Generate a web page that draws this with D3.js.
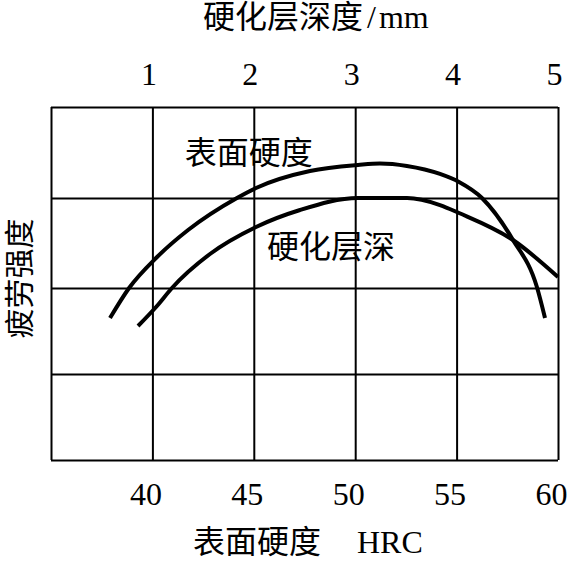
<!DOCTYPE html>
<html>
<head>
<meta charset="utf-8">
<script src="https://cdn.jsdelivr.net/npm/d3@7"></script>
<style>
  body { margin: 0; background: #fff; }
  text { font-family: "Liberation Serif", "Noto Sans CJK SC", serif; fill: #000; }
</style>
</head>
<body>
<svg id="chart" width="570" height="561"></svg>
<script>
// tick labels
const hrcTicks = [40, 45, 50, 55, 60]
const depthTicks = [1, 2, 3, 4, 5]
const hrcGrid = [35, 40, 45, 50, 55, 60]
const strengthGrid = [0, 1, 2, 3, 4]

// fatigue strength vs surface hardness (HRC, bottom axis)
const hardnessHrc = [37.91, 38.85, 40.23, 41.76, 44.17, 45.11, 47.77, 50.14, 51.22, 52.55, 54.18, 55.12, 56.25, 57.78, 58.96, 59.36]
const hardnessStrength = [1.651, 2.0, 2.344, 2.644, 3.0, 3.11, 3.297, 3.363, 3.379, 3.352, 3.264, 3.176, 3.0, 2.533, 2.011, 1.651]

// fatigue strength vs case depth (mm, top axis)
const depthMm = [0.858, 1.045, 1.193, 1.568, 2.022, 2.456, 3.028, 3.511, 3.836, 4.024, 4.556, 5.0]
const depthStrength = [1.558, 1.791, 2.0, 2.378, 2.678, 2.867, 3.0, 3.0, 2.922, 2.833, 2.533, 2.122]

const svg = d3.select("#chart")
const plotLeft = 51, plotRight = 558, plotTop = 107, plotBottom = 460

const x = d3.scaleLinear().domain([35, 60]).range([plotLeft, plotRight])
const xDepth = d3.scaleLinear().domain([0, 5]).range([plotLeft, plotRight])
// the hand-drawn rows are not quite even
const y = d3.scaleLinear().domain([0, 1, 2, 3, 4]).range([plotBottom, 374, 288, 198, plotTop])

// grid
svg.append("g")
    .attr("transform", "translate(0," + plotBottom + ")")
    .call(d3.axisBottom(x).tickValues(hrcGrid).tickSize(-(plotBottom - plotTop)).tickFormat(""))
    .call(function(g) { g.select(".domain").remove() })
    .selectAll("line").attr("stroke", "#000").attr("stroke-width", 2)

svg.append("g")
    .attr("transform", "translate(" + plotLeft + ",0)")
    .call(d3.axisLeft(y).tickValues(strengthGrid).tickSize(-(plotRight - plotLeft)).tickFormat(""))
    .call(function(g) { g.select(".domain").remove() })
    .selectAll("line").attr("stroke", "#000").attr("stroke-width", 2)

// tick labels
svg.append("g")
    .attr("transform", "translate(0," + plotBottom + ")")
    .call(d3.axisBottom(x).tickValues(hrcTicks).tickSize(0).tickFormat(d3.format("d")))
    .call(function(g) { g.select(".domain").remove() })
    .selectAll("text")
    .attr("y", 45).attr("dy", 0).attr("dx", -7)
    .style("font-size", "32px")
    .style("font-family", "Liberation Serif")

svg.append("g")
    .attr("transform", "translate(0," + plotTop + ")")
    .call(d3.axisTop(xDepth).tickValues(depthTicks).tickSize(0).tickFormat(d3.format("d")))
    .call(function(g) { g.select(".domain").remove() })
    .selectAll("text")
    .attr("y", -22).attr("dy", 0).attr("dx", -4)
    .style("font-size", "32px")
    .style("font-family", "Liberation Serif")

// curves
const line = d3.line().curve(d3.curveMonotoneX)

svg.append("path")
    .attr("d", line(hardnessHrc.map(function(d, i) { return [x(d), y(hardnessStrength[i])] })))
    .attr("fill", "none")
    .attr("stroke", "#000")
    .attr("stroke-width", 4)

svg.append("path")
    .attr("d", line(depthMm.map(function(d, i) { return [xDepth(d), y(depthStrength[i])] })))
    .attr("fill", "none")
    .attr("stroke", "#000")
    .attr("stroke-width", 4)

// curve labels
svg.append("text")
    .attr("x", x(41.6)).attr("y", y(3.37))
    .style("font-size", "32px")
    .text("表面硬度")

svg.append("text")
    .attr("x", xDepth(2.13)).attr("y", y(2.33))
    .style("font-size", "32px")
    .text("硬化层深")

// axis titles
const tt = svg.append("text")
    .attr("x", 203).attr("y", 28)
    .style("font-size", "32px")
tt.append("tspan").text("硬化层深度")
tt.append("tspan").attr("dx", 4).text("/")
tt.append("tspan").attr("dx", 3).text("mm")

const xt = svg.append("text")
    .attr("x", 193).attr("y", 553)
    .style("font-size", "32px")
xt.append("tspan").text("表面硬度")
xt.append("tspan").attr("x", 357).text("HRC")

svg.append("text")
    .attr("transform", "translate(30," + ((plotTop + plotBottom) / 2 - 5) + ") rotate(-90)")
    .attr("text-anchor", "middle")
    .style("font-size", "30px")
    .text("疲劳强度")
</script>
</body>
</html>
